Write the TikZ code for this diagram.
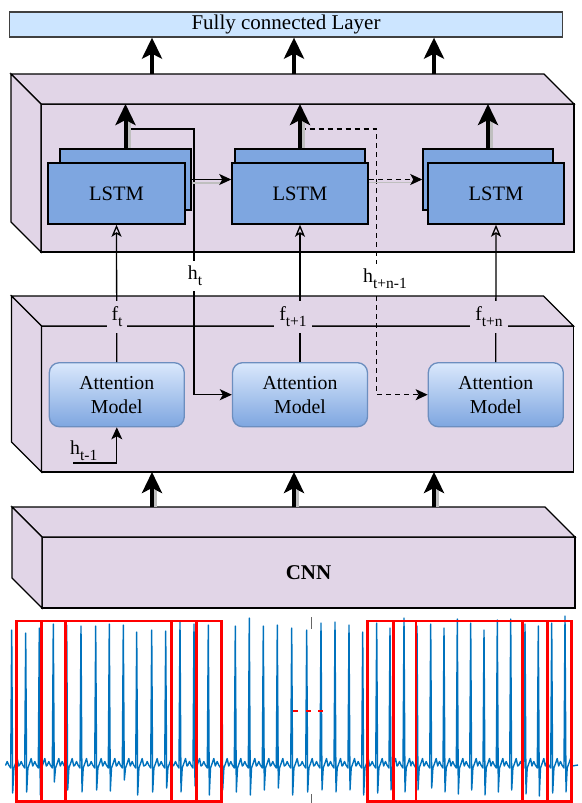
\documentclass[tikz,border=0pt]{standalone}
\usepackage{fontspec}
\setmainfont{Liberation Serif}
\usetikzlibrary{arrows.meta,positioning}

\definecolor{layerfill}{RGB}{225,213,231}
\definecolor{fcfill}{RGB}{204,229,255}
\definecolor{lstmfill}{RGB}{126,166,224}
\definecolor{attntop}{RGB}{218,232,252}
\definecolor{attnbot}{RGB}{126,166,224}
\definecolor{attnline}{RGB}{108,142,191}
\definecolor{ecgblue}{RGB}{0,114,189}

\tikzset{
  layer/.style={draw, fill=layerfill, line width=1.3pt, inner sep=0pt, outer sep=0pt},
  lstmbox/.style={draw, fill=lstmfill, line width=1.5pt, minimum height=61pt, inner sep=0pt, font=\fontsize{20.5}{24}\selectfont},
  attnbox/.style={draw=attnline, line width=1.3pt, rounded corners=10pt, top color=attntop, bottom color=attnbot,
    minimum width=135pt, minimum height=64pt, align=center, inner sep=0pt},
  bigarrow/.style={line width=4pt, -{Stealth[length=21pt,width=20pt,inset=5pt]}},
  shadowed/.style={preaction={draw=black!25, line width=4pt, arrows=-, shorten >=18pt, transform canvas={xshift=3pt}}},
  wire/.style={line width=1.3pt},
  feed/.style={wire, -{Stealth[open,length=12pt,width=10pt,inset=3pt]}},
  flow/.style={wire, -{Stealth[length=12pt,width=11pt,inset=3pt]}},
  dashline/.style={dash pattern=on 5pt off 4pt},
  flabel/.style={fill=layerfill, inner xsep=5pt, inner ysep=6pt},
  hlabel/.style={fill=white, inner xsep=3pt, inner ysep=5pt},
  ecg/.style={draw=ecgblue, line width=1.4pt, line join=round},
  window/.style={draw=red, line width=2.5pt}
}

% lowered index as printed in the figure
\newcommand{\lowidx}[1]{\raisebox{-0.3em}{\fontsize{15.5}{16}\selectfont #1}}

% back faces of a layer block, drawn from its front node
\newcommand{\layerfaces}[1]{%
  \draw[layer] (#1.north west) -- ++(-30,-30) -- ([shift={(-30,-30)}]#1.north east) -- (#1.north east) -- cycle;
  \draw[layer] (#1.north west) -- ++(-30,-30) -- ([shift={(-30,-30)}]#1.south west) -- (#1.south west) -- cycle;
}

\begin{document}
\begin{tikzpicture}[x=1pt, y=-1pt, font=\fontsize{19.8}{24}\selectfont]
    \useasboundingbox (0,0) rectangle (581,803);

    % Layer blocks
    \node[layer, minimum width=533pt, minimum height=148pt] (lstmlayer) at (307.5,178) {};
    \layerfaces{lstmlayer}
    \node[layer, minimum width=532pt, minimum height=146pt] (attnlayer) at (307.5,399) {};
    \layerfaces{attnlayer}
    \node[layer, minimum width=533pt, minimum height=71pt, font=\fontsize{21}{24}\selectfont\bfseries] (cnn) at (308.5,572.5) {CNN};
    \layerfaces{cnn}

    \node[draw=black!75, fill=fcfill, line width=1.3pt, minimum width=553pt, minimum height=25pt, inner sep=0pt,
          font=\fontsize{21}{24}\selectfont] (fc) at (286,24.5) {Fully connected Layer};

    % Arrows between the blocks
    \foreach \x [count=\i] in {152, 294, 434} {
        \coordinate (up\i) at (\x,74);
        \draw[bigarrow] (up\i) -- (up\i |- fc.south);
        \coordinate (cnnup\i) at (\x,507);
        \draw[bigarrow, shadowed] (cnnup\i) -- (cnnup\i |- attnlayer.south);
    }

    % LSTM cells
    \node[lstmbox, minimum width=131pt] (lstm1b) at (125.5,179.5) {};
    \node[lstmbox, minimum width=137pt] (lstm1) at (116.5,193.5) {LSTM};
    \node[lstmbox, minimum width=130pt] (lstm2b) at (300,179.5) {};
    \node[lstmbox, minimum width=136pt] (lstm2) at (300,193.5) {LSTM};
    \node[lstmbox, minimum width=130pt] (lstm3b) at (488,179.5) {};
    \node[lstmbox, minimum width=136pt] (lstm3) at (496,193.5) {LSTM};

    % Attention models
    \node[attnbox] (att1) at (116.8,394.7) {Attention\\Model};
    \node[attnbox] (att2) at (300,394.7) {Attention\\Model};
    \node[attnbox] (att3) at (495.8,394.7) {Attention\\Model};

    % hidden states
    \coordinate (ht) at (126,129);
    \coordinate (htn) at (300.7,129);
    \draw[flow] (ht) -- (194,129) |- (att2.west);
    \draw[flow, dashline] (htn) -- (376.7,129) |- (att3.west);
    \coordinate (hprev) at (73,463);
    \draw[flow] (hprev) -| (att1.south);

    \foreach \i in {1, 2, 3} {
        \draw[bigarrow, shadowed] (lstm\i b.north) -- (lstm\i b.north |- lstmlayer.north);
        \draw[feed] (att\i.north) -- (lstm\i.south);
    }
    \draw[flow, preaction={draw=black!25, line width=2pt, arrows=-, shorten >=10pt, transform canvas={yshift=-3pt}}]
        (lstm1b.east) -- (lstm2.west |- lstm1b.east);
    \draw[flow, dashline, preaction={draw=black!25, line width=1.5pt, arrows=-, shorten >=10pt, transform canvas={yshift=-3pt}}]
        (lstm2.east |- lstm2b.east) -- (lstm3b.west);

    % Labels
    \node[flabel] (ft1) at (117,317) {f\lowidx{t}};
    \node[flabel] (ft2) at (293,317) {f\lowidx{t+1}};
    \node[flabel] (ft3) at (489,317) {f\lowidx{t+n}};
    \node[hlabel] (hl1) at (195,276) {h\lowidx{t}};
    \node[hlabel] (hl2) at (385,279) {h\lowidx{t+n-1}};
    \node[anchor=south west, inner sep=1pt] (hl0) at (69,462) {h\lowidx{t-1}};

    % ECG signal
    \draw[ecg] (5,765) foreach \x/\t/\b in {11.7/630/793, 25.7/633/792, 39.3/628/795, 53.3/624/782, 66.7/625/790,
        81/626/792, 95.7/626/790, 109.3/624/791, 123.3/625/780, 136.7/632/795, 151.7/630/792, 165.7/631/788,
        180/622/792, 194/624/786, 208.3/625/795, 221.7/627/790, 235.3/626/792, 249.3/618/795, 263.3/626/790,
        277.3/625/788, 291.7/628/795, 306.7/630/792, 321/623/790, 335/622/792, 349/625/790, 362.7/632/795,
        376.7/623/793, 390/628/790, 404/618/792, 417/626/790, 430.7/624/788, 444/628/792, 457.3/619/794,
        470.7/623/790, 484/630/795, 497.3/620/792, 510.7/619/790, 525/624/794, 538.3/626/796, 551.7/623/793, 565/616/792}
        { -- (\x-6,765) -- (\x-4.5,761.5) -- (\x-3,765) -- (\x-1,768) -- (\x,\t) -- (\x+1,\b)
          -- (\x+2.2,768) -- (\x+4,763) -- (\x+5.5,758.5) -- (\x+7,766) } -- (578,765);

    % windows
    \foreach \a/\b in {16.7/41.7, 41.7/65.5, 65.5/171.7, 171.7/196, 196.5/221.7,
                       367.7/393.3, 393.3/416, 416/522.7, 522.7/547.3, 547.3/571.7}
        \draw[window] (\a,621) rectangle (\b,801.5);
    \draw[red, line width=2.5pt, dash pattern=on 5pt off 7.5pt] (293,711) -- (323.5,711);
    \draw[black!60, line width=1.5pt] (311.7,617) -- (311.7,629);
    \draw[black!60, line width=1.5pt] (311.7,794) -- (311.7,803);

\end{tikzpicture}
\end{document}
